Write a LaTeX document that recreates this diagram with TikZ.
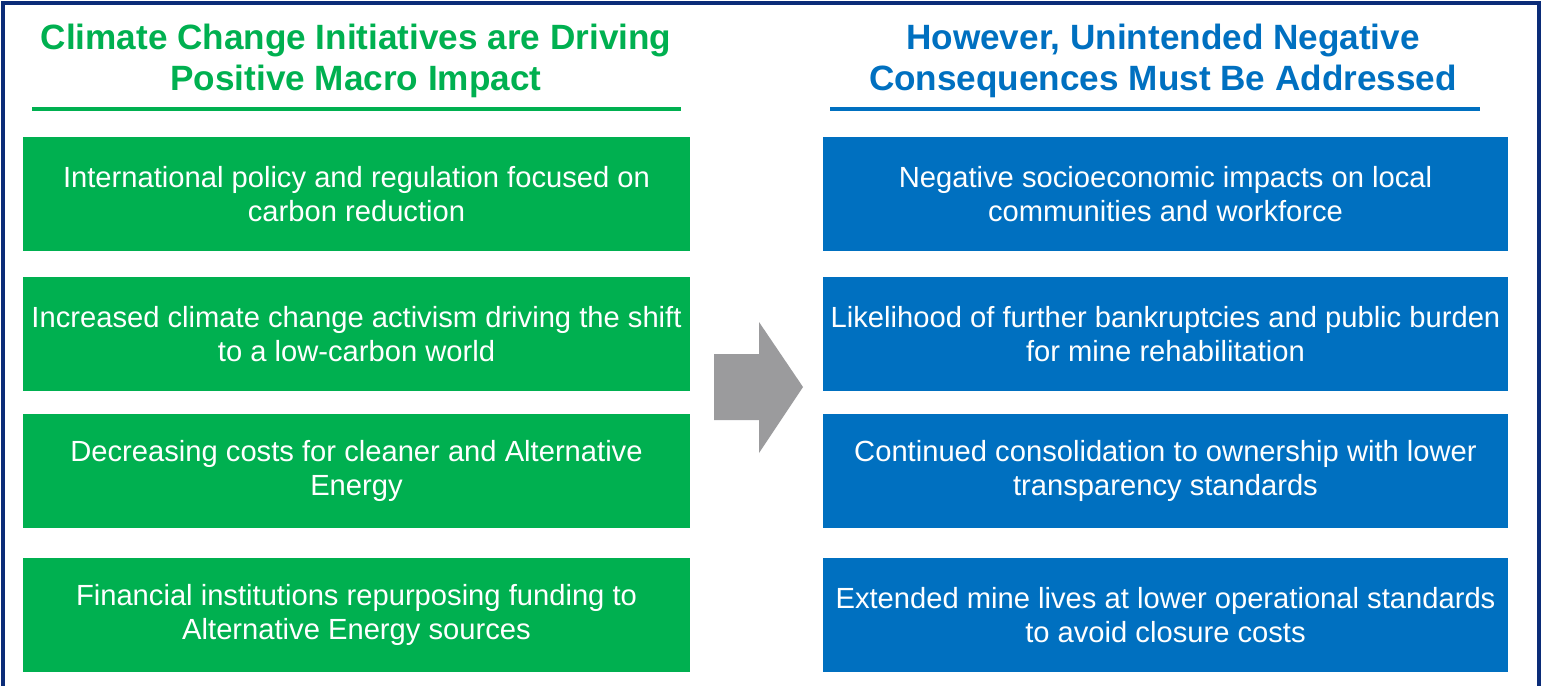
\documentclass[tikz,border=0pt]{standalone}
\usepackage{fontspec}
\setmainfont{Liberation Sans}
\usepackage[HTML]{xcolor}
\usepackage{tikz}
\usetikzlibrary{positioning}

\definecolor{posgreen}{HTML}{00B050}
\definecolor{negblue}{HTML}{0070C0}
\definecolor{framenavy}{HTML}{0B2C78}
\definecolor{arrowgrey}{HTML}{9B9B9D}

\begin{document}
\begin{tikzpicture}[x=0.02cm, y=-0.02cm,
  heading/.style={align=center, font=\bfseries\fontsize{20}{23.8}\selectfont},
  gbox/.style={fill=posgreen, text=white, minimum width=13.34cm, minimum height=2.28cm, align=center, inner sep=0pt, font=\fontsize{16.6}{19.8}\selectfont},
  bbox/.style={gbox, fill=negblue, minimum width=13.7cm}]
\clip (0,0) rectangle (1543,686);
% outer frame
\draw[framenavy, line width=2.3pt] (3,3) rectangle (1539,720);

% headings
\node[heading, text=posgreen] (gtitle) at (356,61) {Climate Change Initiatives are Driving\\Positive Macro Impact};
\node[heading, text=negblue] (btitle) at (1163,61) {However, Unintended Negative\\Consequences Must Be Addressed};
\draw[posgreen, line width=1.8pt] (32,109) -- (681,109);
\draw[negblue, line width=1.8pt] (830,109) -- (1480,109);

% left column
\foreach \n/\y/\t in {1/194/{International policy and regulation focused on\\carbon reduction},
  2/334/{Increased climate change activism driving the shift\\to a low-carbon world},
  3/471/{Decreasing costs for cleaner and Alternative\\Energy},
  4/615/{Financial institutions repurposing funding to\\Alternative Energy sources}}
  \node[gbox] (g\n) at (356.5,\y) {\t};

% right column
\foreach \n/\y/\t in {1/194/{Negative socioeconomic impacts on local\\communities and workforce},
  2/334/{Likelihood of further bankruptcies and public burden\\for mine rehabilitation},
  3/471/{Continued consolidation to ownership with lower\\transparency standards},
  4/615/{Extended mine lives at lower operational standards\\to avoid closure costs}}
  \node[bbox] (b\n) at (1165.5,\y) {\t};

% block arrow
\fill[arrowgrey] (714,354) -- (759,354) -- (759,322) -- (803,387) -- (759,453) -- (759,420) -- (714,420) -- cycle;
\end{tikzpicture}
\end{document}
